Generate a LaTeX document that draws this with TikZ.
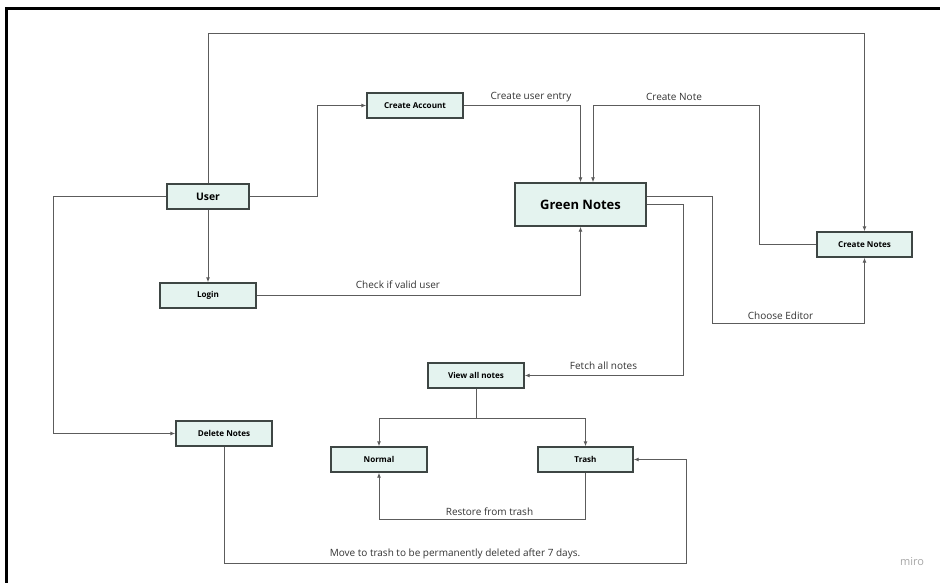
\documentclass[tikz,border=0pt]{standalone}
\usepackage{fontspec}
\setmainfont{Open Sans}
\usetikzlibrary{arrows.meta}

\definecolor{boxfill}{RGB}{228,243,239}
\definecolor{boxline}{RGB}{62,70,68}
\definecolor{linkline}{RGB}{92,92,92}

\tikzset{
    box/.style={draw=boxline, line width=1.4pt, fill=boxfill, minimum width=96pt, minimum height=25pt, inner sep=0pt, font=\bfseries\fontsize{8.1}{10}\selectfont},
    link/.style={draw=linkline, line width=0.9pt},
    arr/.style={link, -{Latex[length=5pt,width=4pt]}},
    lbl/.style={inner sep=0pt, text=black!80, font=\fontsize{10}{12}\selectfont}
}

\begin{document}
\begin{tikzpicture}[x=1pt,y=-1pt]
    \useasboundingbox (0,0) rectangle (940,583);

    % draw outer frame (top and left only)
    \draw[line width=3pt] (6,583) -- (6,8.5) -- (940,8.5);

    % draw the boxes
    \node[box, minimum width=82pt, font=\bfseries\fontsize{10.4}{12}\selectfont] (user) at (208,196.5) {User};
    \node[box] (account) at (415,105.5) {Create Account};
    \node[box, minimum width=131pt, minimum height=43pt, font=\bfseries\fontsize{13}{15}\selectfont] (green) at (580.5,204.5) {Green Notes};
    \node[box, minimum width=95pt] (create) at (864.5,244.5) {Create Notes};
    \node[box] (login) at (208,295.5) {Login};
    \node[box] (view) at (476,375.5) {View all notes};
    \node[box] (delete) at (224,433.5) {Delete Notes};
    \node[box] (normal) at (379,459.5) {Normal};
    \node[box, minimum width=95pt] (trash) at (585.5,459.5) {Trash};

    % draw connectors from user
    \draw[arr] (user.north) -- (208,33) -| (create.north);
    \draw[arr] (user.east) -- (317,196.5) |- (account.west);
    \draw[arr] (user.south) -- (login.north);
    \draw[arr] (user.west) -- (53,196.5) |- (delete.west);

    % draw connectors into green notes
    \draw[arr] (account.east) -| (green.north);
    \draw[arr] (create.west) -- (759,244.5) |- (593,105) -- ([xshift=12.5pt]green.north);
    \draw[arr] (login.east) -| (green.south);

    % draw connectors out of green notes
    \draw[arr] ([yshift=8.5pt]green.east) -| (712,323) -| (create.south);
    \draw[arr] (green.east) -- (683,204.5) |- (view.east);

    % split view all notes into normal and trash
    \coordinate (split) at (476,418);
    \draw[link] (view.south) -- (split);
    \draw[arr] (split) -| (normal.north);
    \draw[arr] (split) -| (trash.north);

    % restore and move to trash
    \draw[arr] (trash.south) -- (585.5,519) -| (normal.south);
    \draw[arr] (delete.south) |- (686,563) |- (trash.east);

    % connector labels
    \node[lbl] (entrylbl) at (531,97) {Create user entry};
    \node[lbl] (notelbl) at (674,97) {Create Note};
    \node[lbl] (checklbl) at (398,285) {Check if valid user};
    \node[lbl] (editorlbl) at (780.5,316) {Choose Editor};
    \node[lbl] (fetchlbl) at (603.5,366) {Fetch all notes};
    \node[lbl] (restorelbl) at (489.5,512) {Restore from trash};
    \node[lbl] (movelbl) at (455,553.5) {Move to trash to be permanently deleted after 7 days.};

    % watermark
    \node[inner sep=0pt, text=black!35, font=\fontsize{11}{13}\selectfont] (miro) at (912,562) {miro};
\end{tikzpicture}
\end{document}
